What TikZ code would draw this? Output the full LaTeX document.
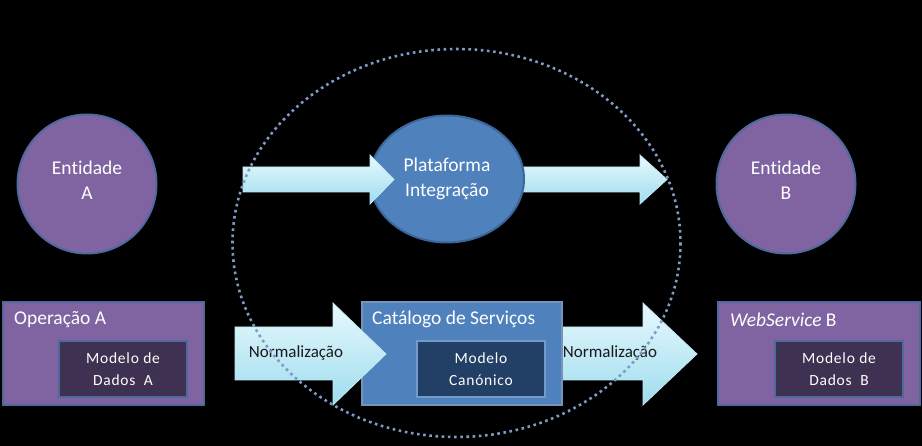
\documentclass[tikz,border=0pt]{standalone}
\usepackage{fontspec}
\setmainfont{Carlito}[Ligatures=NoCommon]
\newfontfamily\spacedfont[LetterSpace=5,Ligatures=NoCommon]{Carlito}
\usetikzlibrary{shapes.geometric}
\definecolor{purplefill}{HTML}{8064A2}
\definecolor{purpleedge}{HTML}{4E6A9C}
\definecolor{darkpurple}{HTML}{3F3151}
\definecolor{bluefill}{HTML}{4F81BD}
\definecolor{blueedge}{HTML}{3C659A}
\definecolor{navyfill}{HTML}{223F66}
\definecolor{arrowtop}{HTML}{E8F9FD}
\definecolor{arrowbot}{HTML}{9EDCEE}
\definecolor{arrowedge}{HTML}{BFE9F4}
\definecolor{dotcol}{HTML}{7E9BC6}
\tikzset{
  bigtext/.style={text=white, font=\fontsize{19.5}{25}\selectfont, align=center},
  entity/.style={circle, fill=purplefill, draw=purpleedge, line width=2pt, minimum size=139pt, inner sep=0pt},
  platform/.style={ellipse, fill=bluefill, draw=blueedge, line width=2pt, minimum width=154pt, minimum height=127pt, inner sep=0pt},
  outerbox/.style={rectangle, line width=2pt, minimum height=103pt, inner sep=0pt},
  innerbox/.style={rectangle, line width=2pt, minimum width=128pt, minimum height=56pt, inner sep=0pt, text=white, align=center, font=\spacedfont\fontsize{15.5}{21.5}\selectfont},
  blockarrow/.style={top color=arrowtop, bottom color=arrowbot, draw=arrowedge, line width=0.8pt, line join=miter},
  normtext/.style={text=black!90, font=\fontsize{17}{20}\selectfont},
  boxtitle/.style={text=white, font=\fontsize{19.5}{24}\selectfont, anchor=west, inner sep=0pt},
}
\begin{document}
\begin{tikzpicture}[x=1pt, y=-1pt]
\fill[black] (0,0) rectangle (922,446);
\useasboundingbox (0,0) rectangle (922,446);

% entities
\node[entity] (entA) at (87,184) {};
\node[bigtext] (entAtext) at (87,180) {Entidade\\A};
\node[entity] (entB) at (786,184) {};
\node[bigtext] (entBtext) at (786,180) {Entidade\\B};

% right top arrow (behind platform)
\path[blockarrow] (523,167) -- (640,167) -- (640,155) -- (667,179.5) -- (640,204) -- (640,192) -- (523,192) -- cycle;

% platform
\node[platform] (plat) at (447,179) {};
\node[bigtext] (plattext) at (447,179) {Plataforma\\Integração};

% left top arrow (over platform)
\path[blockarrow] (243,167) -- (370,167) -- (370,155) -- (394,179.5) -- (370,204) -- (370,192) -- (243,192) -- cycle;

% bottom boxes
\node[outerbox, fill=purplefill, draw=purpleedge, minimum width=201pt] (opA) at (103.5,353.5) {};
\node[boxtitle] (opAtitle) at (14,320) {Operação A};
\node[innerbox, fill=darkpurple, draw=purpleedge] (modA) at (123,369) {Modelo de\\Dados\ \ A};

% right bottom arrow (behind catalogue)
\path[blockarrow] (560,327) -- (643,327) -- (643,303) -- (697,354) -- (643,405) -- (643,380) -- (560,380) -- cycle;
\node[normtext] (normB) at (610,353) {Normalização};

\node[outerbox, fill=bluefill, draw=blueedge!70!white, minimum width=200pt] (cat) at (462,353.5) {};
\node[boxtitle] (cattitle) at (372,319) {Catálogo de Serviços};
\node[innerbox, fill=navyfill, draw=bluefill!80!white] (canon) at (481,369) {Modelo\\Canónico};

% left bottom arrow (over catalogue)
\path[blockarrow] (235,327) -- (333,327) -- (333,303) -- (386,354) -- (333,405) -- (333,380) -- (235,380) -- cycle;
\node[normtext] (normA) at (296,353) {Normalização};

\node[outerbox, fill=purplefill, draw=purpleedge, minimum width=202pt] (wsB) at (819,353.5) {};
\node[boxtitle] (wsBtitle) at (730,320) {\textit{WebService} B};
\node[innerbox, fill=darkpurple, draw=purpleedge] (modB) at (839,369) {Modelo de\\Dados\ \ B};

% dotted ellipse
\draw[dotcol, line width=2.6pt, dash pattern=on 2.6pt off 3.6pt] (456.5,243) ellipse [x radius=224, y radius=194];
\end{tikzpicture}
\end{document}
